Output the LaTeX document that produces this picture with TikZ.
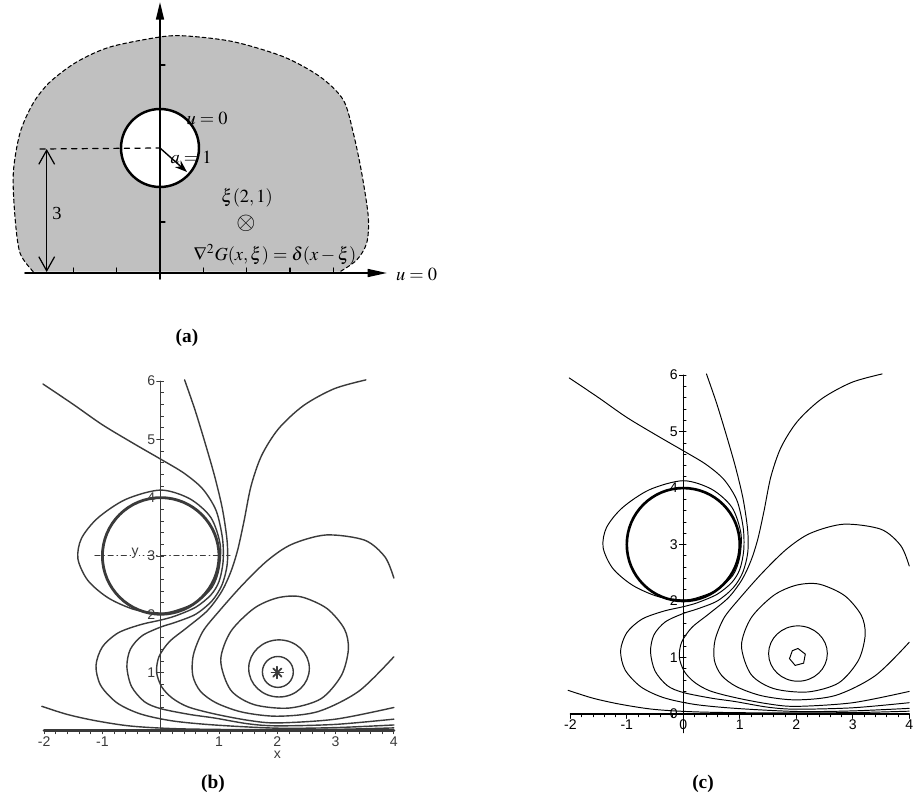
\documentclass[tikz,border=0pt]{standalone}
\usepackage{mathptmx}
\usepackage{fontspec}
\setmainfont{Liberation Serif}
\newfontfamily\axisfont{Liberation Sans}
\usetikzlibrary{arrows.meta,calc}
\definecolor{shade}{HTML}{C0C0C0}
\definecolor{scan}{HTML}{3A3A3A}

\tikzset{
  axisline/.style={line width=1pt},
  axlabel/.style={font=\axisfont\fontsize{8}{9}\selectfont, inner sep=1pt},
  caption/.style={font=\fontsize{11}{13}\selectfont\bfseries},
  formula/.style={font=\fontsize{10.5}{12}\selectfont, inner sep=1pt},
}

\newcommand\levelcurves{%
  \draw[level] plot[smooth cycle] coordinates {(0,4.13) (0.5,3.98) (0.86,3.66) (1.02,3.2) (1.0,2.78) (0.88,2.46) (0.6,2.2) (0.25,2.06) (0,2.02) (-0.45,2.08) (-0.9,2.28) (-1.25,2.58) (-1.42,2.95) (-1.36,3.3) (-1.08,3.65) (-0.6,3.97)};
  \draw[level] plot[smooth] coordinates {(-2.02,5.95) (-1.5,5.6) (-1.0,5.25) (-0.45,4.92) (0,4.66) (0.4,4.42) (0.72,4.15) (0.95,3.78) (1.06,3.3) (1.07,2.9) (1.0,2.56) (0.86,2.33) (0.6,2.12) (0.25,1.97) (0,1.9) (-0.35,1.82) (-0.73,1.68) (-1.0,1.44) (-1.11,1.12) (-1.03,0.78) (-0.75,0.48) (-0.35,0.29) (0.2,0.17) (0.92,0.1) (2,0.045) (3,0.055) (4,0.1)};
  \draw[level] plot[smooth] coordinates {(0.41,6.02) (0.59,5.5) (0.77,4.91) (0.93,4.35) (1.06,3.8) (1.14,3.25) (1.14,2.85) (1.05,2.5) (0.88,2.23) (0.6,2.0) (0.25,1.86) (0,1.78) (-0.32,1.63) (-0.52,1.4) (-0.58,1.1) (-0.5,0.76) (-0.28,0.5) (0,0.38) (0.5,0.28) (0.92,0.22) (1.5,0.12) (2,0.085) (3,0.11) (4,0.2)};
  \draw[level] plot[smooth] coordinates {(3.52,6.02) (2.98,5.87) (2.45,5.58) (2.02,5.18) (1.73,4.72) (1.55,4.2) (1.43,3.6) (1.32,3.1) (1.2,2.72) (1.04,2.38) (0.8,2.06) (0.45,1.77) (0.15,1.53) (-0.03,1.27) (-0.07,1.0) (0.02,0.75) (0.2,0.56) (0.47,0.41) (0.92,0.29) (1.5,0.18) (2,0.135) (3,0.2) (4,0.4)};
  \draw[level] plot[smooth] coordinates {(4.0,2.62) (3.85,2.98) (3.5,3.27) (2.84,3.36) (2.25,3.2) (1.83,2.92) (1.4,2.5) (1.0,2.05) (0.72,1.7) (0.56,1.3) (0.55,0.95) (0.68,0.68) (0.95,0.48) (1.4,0.32) (2,0.25) (2.7,0.33) (3.4,0.68) (4.0,1.27)};
  \draw[level] plot[smooth cycle] coordinates {(1.03,1.21) (1.2,1.7) (1.6,2.1) (2.0,2.28) (2.4,2.3) (2.85,2.1) (3.15,1.75) (3.22,1.4) (3.1,0.95) (2.75,0.55) (2.2,0.39) (1.6,0.45) (1.2,0.7)};
  \draw[level] (2.03,1.07) ellipse[x radius=0.52, y radius=0.49];
  \draw[level] plot[smooth] coordinates {(-2.04,0.42) (-1.6,0.28) (-1.1,0.17) (-0.5,0.08) (0.3,0.035) (1.5,0.02) (3,0.025) (4,0.05)};
}

\begin{document}
\begin{tikzpicture}[x=0.02cm, y=-0.02cm, line cap=round]
  \useasboundingbox (0,0) rectangle (914,801);

  % (a)
  \coordinate (org) at (160,273);
  \coordinate (hole) at (160,148);
  \path[fill=shade] plot[smooth] coordinates {(33.3,271.7) (20,253) (15,217) (13.3,173) (20,133) (33.3,103) (50,82) (76.7,62) (110,47) (160,37) (186.7,36) (233.3,41.7) (283.3,56.7) (320,76.7) (343.3,100) (353.3,133) (361.7,173) (368.3,217) (366.7,243) (356.7,260) (340,271.7)} -- cycle;
  \draw[line width=0.6pt, dash pattern=on 2.2pt off 1.6pt] plot[smooth] coordinates {(33.3,271.7) (20,253) (15,217) (13.3,173) (20,133) (33.3,103) (50,82) (76.7,62) (110,47) (160,37) (186.7,36) (233.3,41.7) (283.3,56.7) (320,76.7) (343.3,100) (353.3,133) (361.7,173) (368.3,217) (366.7,243) (356.7,260) (340,271.7)};
  \draw[fill=white, line width=1.4pt] (hole) circle[radius=39];
  \coordinate (ybot) at (160,279);
  \coordinate (ytop) at (160,2);
  \coordinate (xleft) at (25,273);
  \coordinate (xright) at (387,273);
  \draw[axisline, -{Triangle[length=10pt, width=4.5pt]}] (ybot) -- (ytop);
  \draw[axisline, -{Triangle[length=11pt, width=4.5pt]}] (xleft) -- (xright);
  \foreach \t in {73.3,116.7,203.3,246.7,290,333.3}
    \draw[line width=0.6pt] (\t,273) -- (\t,268);
  \foreach \t in {65,222}
    \draw[line width=0.6pt] (160,\t) -- (165,\t);
  \coordinate (dimtop) at (46.7,149);
  \coordinate (dimbot) at (46.7,272);
  \draw[line width=0.7pt, dashed] (40,149) -- (hole);
  \draw[line width=0.7pt, {Straight Barb[length=8pt, width=9pt]}-{Straight Barb[length=8pt, width=9pt]}] (dimtop) -- (dimbot);
  \coordinate (rim) at (187,172);
  \draw[line width=0.8pt, -{Stealth[length=7pt, width=5pt]}] (hole) -- (rim);
  \node[formula] (uhole) at (207,118) {$u=0$};
  \node[formula] (arad) at (191,157) {$a=1$};
  \node[formula] (three) at (57,213) {3};
  \node[formula, inner sep=0pt] (xi) at (247,198) {$\xi(2,1)$};
  \node[formula, inner sep=0pt, font=\fontsize{14}{14}\selectfont] (pt) at (246,223) {$\otimes$};
  \node[formula] (pde) at (275,255) {$\nabla^2 G(x,\xi)=\delta(x-\xi)$};
  \node[formula, anchor=west] (uline) at (394,274) {$u=0$};
  \node[caption] (capa) at (187,338) {(a)};

  % (b)
  \begin{scope}[shift={(160.7,730.8)}, x=1.166cm, y=1.166cm,
      level/.style={draw=scan, line width=0.8pt}]
    \draw[scan, line width=1.8pt] (-2,0) -- (4,0);
    \draw[scan, line width=0.5pt] (0,-0.05) -- (0,6);
    \foreach \t in {-2,-1.8,...,4.05}
      \draw[scan, line width=0.4pt] (\t,0) -- (\t,-0.05);
    \foreach \t in {0.2,0.4,...,6.05}
      \draw[scan, line width=0.4pt] (0,\t) -- (0.05,\t);
    \foreach \t in {1,...,6}
      \draw[scan, line width=0.4pt] (-0.07,\t) -- (0,\t);
    \foreach \t [count=\k] in {-2,-1,1,2,3,4}
      \node[axlabel, text=scan, anchor=north] (bx\k) at (\t,-0.07) {\t};
    \foreach \t in {1,...,6}
      \node[axlabel, text=scan, anchor=east] (by\t) at (-0.06,\t) {\t};
    \node[axlabel, text=scan, anchor=north] (bxname) at (2,-0.32) {x};
    \draw[scan, line width=0.5pt, dash dot] (-1.13,3) -- (1.19,3);
    \node[axlabel, text=scan, fill=white, inner sep=0.5pt] (byname) at (-0.44,3.05) {y};
    \draw[scan, line width=1.6pt] (0,3) circle[radius=1];
    \levelcurves
    \draw[level] (2.01,1.01) circle[radius=0.265];
    \coordinate (bsrc) at (2,1);
    \foreach \a in {0,45,90,135}
      \draw[scan, line width=1pt] (bsrc) ++(\a:0.1) -- ++(\a+180:0.2);
  \end{scope}
  \node[caption] (capb) at (213,784) {(b)};

  % (c)
  \begin{scope}[shift={(683.3,714)}, x=1.13cm, y=1.13cm,
      level/.style={draw=black, line width=0.55pt}]
    \draw[line width=0.7pt] (-2,0) -- (4,0);
    \draw[line width=0.7pt] (0,-0.33) -- (0,6);
    \foreach \t in {-2,-1.8,...,4.05}
      \draw[line width=0.4pt] (\t,0) -- (\t,-0.05);
    \foreach \t in {-2,...,4}
      \draw[line width=0.4pt] (\t,0) -- (\t,-0.08);
    \foreach \t in {0.2,0.4,...,6.05}
      \draw[line width=0.4pt] (0,\t) -- (0.05,\t);
    \foreach \t in {0,...,6}
      \draw[line width=0.4pt] (-0.07,\t) -- (0,\t);
    \foreach \t [count=\k] in {-2,-1,0,1,2,3,4}
      \node[axlabel, anchor=north] (cx\k) at (\t,-0.07) {\t};
    \foreach \t in {0,...,6}
      \node[axlabel, anchor=east] (cy\t) at (-0.06,\t) {\t};
    \draw[line width=1.5pt] (0,3) circle[radius=1];
    \levelcurves
    \draw[level] (2.03,1.16) -- (2.16,1.06) -- (2.13,0.9) -- (1.98,0.86) -- (1.88,0.98) -- (1.93,1.12) -- cycle;
  \end{scope}
  \node[caption] (capc) at (703,784) {(c)};
\end{tikzpicture}
\end{document}
